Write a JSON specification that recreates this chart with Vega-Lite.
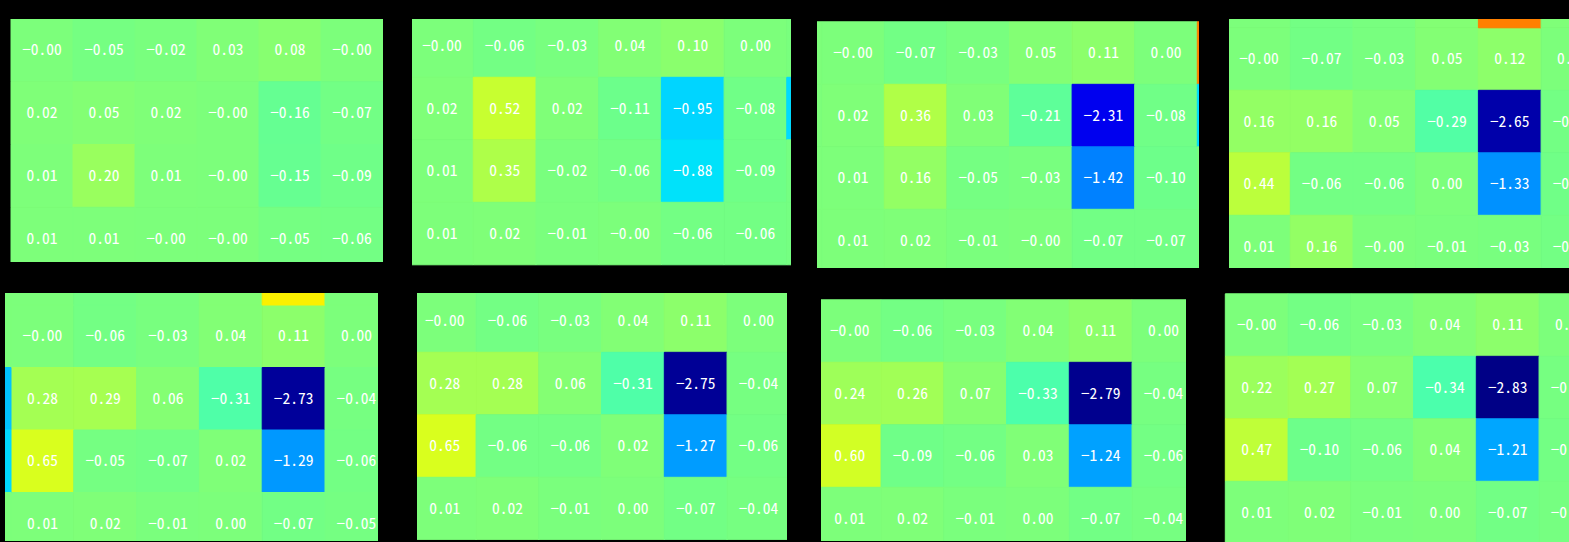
{
"$schema": "https://vega.github.io/schema/vega-lite/v6.json",
"background": "black",
"padding": {"left": 5, "top": 19, "right": 0, "bottom": 0},
"config": {"view": {"stroke": null}, "text": {"color": "white", "font": "Noto Sans Mono CJK SC, Noto Sans CJK SC", "fontSize": 15.5, "fontWeight": 300}, "rect": {"strokeWidth": 1}},
"datasets": {"cells": [
{"p":1,"r":1,"c":1,"v":0,"t":"−0.00"},{"p":1,"r":1,"c":2,"v":-0.05,"t":"−0.05"},{"p":1,"r":1,"c":3,"v":-0.02,"t":"−0.02"},{"p":1,"r":1,"c":4,"v":0.03,"t":"0.03"},{"p":1,"r":1,"c":5,"v":0.08,"t":"0.08"},{"p":1,"r":1,"c":6,"v":0,"t":"−0.00"},
{"p":1,"r":2,"c":1,"v":0.02,"t":"0.02"},{"p":1,"r":2,"c":2,"v":0.05,"t":"0.05"},{"p":1,"r":2,"c":3,"v":0.02,"t":"0.02"},{"p":1,"r":2,"c":4,"v":0,"t":"−0.00"},{"p":1,"r":2,"c":5,"v":-0.16,"t":"−0.16"},{"p":1,"r":2,"c":6,"v":-0.07,"t":"−0.07"},
{"p":1,"r":3,"c":1,"v":0.01,"t":"0.01"},{"p":1,"r":3,"c":2,"v":0.20,"t":"0.20"},{"p":1,"r":3,"c":3,"v":0.01,"t":"0.01"},{"p":1,"r":3,"c":4,"v":0,"t":"−0.00"},{"p":1,"r":3,"c":5,"v":-0.15,"t":"−0.15"},{"p":1,"r":3,"c":6,"v":-0.09,"t":"−0.09"},
{"p":1,"r":4,"c":1,"v":0.01,"t":"0.01"},{"p":1,"r":4,"c":2,"v":0.01,"t":"0.01"},{"p":1,"r":4,"c":3,"v":0,"t":"−0.00"},{"p":1,"r":4,"c":4,"v":0,"t":"−0.00"},{"p":1,"r":4,"c":5,"v":-0.05,"t":"−0.05"},{"p":1,"r":4,"c":6,"v":-0.06,"t":"−0.06"},

{"p":2,"r":1,"c":1,"v":0,"t":"−0.00"},{"p":2,"r":1,"c":2,"v":-0.06,"t":"−0.06"},{"p":2,"r":1,"c":3,"v":-0.03,"t":"−0.03"},{"p":2,"r":1,"c":4,"v":0.04,"t":"0.04"},{"p":2,"r":1,"c":5,"v":0.10,"t":"0.10"},{"p":2,"r":1,"c":6,"v":0,"t":"0.00"},
{"p":2,"r":2,"c":1,"v":0.02,"t":"0.02"},{"p":2,"r":2,"c":2,"v":0.52,"t":"0.52"},{"p":2,"r":2,"c":3,"v":0.02,"t":"0.02"},{"p":2,"r":2,"c":4,"v":-0.11,"t":"−0.11"},{"p":2,"r":2,"c":5,"v":-0.95,"t":"−0.95"},{"p":2,"r":2,"c":6,"v":-0.08,"t":"−0.08"},
{"p":2,"r":3,"c":1,"v":0.01,"t":"0.01"},{"p":2,"r":3,"c":2,"v":0.35,"t":"0.35"},{"p":2,"r":3,"c":3,"v":-0.02,"t":"−0.02"},{"p":2,"r":3,"c":4,"v":-0.06,"t":"−0.06"},{"p":2,"r":3,"c":5,"v":-0.88,"t":"−0.88"},{"p":2,"r":3,"c":6,"v":-0.09,"t":"−0.09"},
{"p":2,"r":4,"c":1,"v":0.01,"t":"0.01"},{"p":2,"r":4,"c":2,"v":0.02,"t":"0.02"},{"p":2,"r":4,"c":3,"v":-0.01,"t":"−0.01"},{"p":2,"r":4,"c":4,"v":0,"t":"−0.00"},{"p":2,"r":4,"c":5,"v":-0.06,"t":"−0.06"},{"p":2,"r":4,"c":6,"v":-0.06,"t":"−0.06"},
{"p":2,"r":1,"c":7,"v":-0.02,"t":""},{"p":2,"r":2,"c":7,"v":-0.92,"t":""},{"p":2,"r":3,"c":7,"v":-0.05,"t":""},{"p":2,"r":4,"c":7,"v":-0.05,"t":""},

{"p":3,"r":1,"c":1,"v":0,"t":"−0.00"},{"p":3,"r":1,"c":2,"v":-0.07,"t":"−0.07"},{"p":3,"r":1,"c":3,"v":-0.03,"t":"−0.03"},{"p":3,"r":1,"c":4,"v":0.05,"t":"0.05"},{"p":3,"r":1,"c":5,"v":0.11,"t":"0.11"},{"p":3,"r":1,"c":6,"v":0,"t":"0.00"},
{"p":3,"r":2,"c":1,"v":0.02,"t":"0.02"},{"p":3,"r":2,"c":2,"v":0.36,"t":"0.36"},{"p":3,"r":2,"c":3,"v":0.03,"t":"0.03"},{"p":3,"r":2,"c":4,"v":-0.21,"t":"−0.21"},{"p":3,"r":2,"c":5,"v":-2.31,"t":"−2.31"},{"p":3,"r":2,"c":6,"v":-0.08,"t":"−0.08"},
{"p":3,"r":3,"c":1,"v":0.01,"t":"0.01"},{"p":3,"r":3,"c":2,"v":0.16,"t":"0.16"},{"p":3,"r":3,"c":3,"v":-0.05,"t":"−0.05"},{"p":3,"r":3,"c":4,"v":-0.03,"t":"−0.03"},{"p":3,"r":3,"c":5,"v":-1.42,"t":"−1.42"},{"p":3,"r":3,"c":6,"v":-0.10,"t":"−0.10"},
{"p":3,"r":4,"c":1,"v":0.01,"t":"0.01"},{"p":3,"r":4,"c":2,"v":0.02,"t":"0.02"},{"p":3,"r":4,"c":3,"v":-0.01,"t":"−0.01"},{"p":3,"r":4,"c":4,"v":0,"t":"−0.00"},{"p":3,"r":4,"c":5,"v":-0.07,"t":"−0.07"},{"p":3,"r":4,"c":6,"v":-0.07,"t":"−0.07"},
{"p":3,"r":1,"c":7,"v":1.57,"t":""},{"p":3,"r":2,"c":7,"v":-0.92,"t":""},{"p":3,"r":3,"c":7,"v":-0.04,"t":""},{"p":3,"r":4,"c":7,"v":-0.04,"t":""},
{"p":3,"r":1,"c":0,"v":0.01,"t":""},{"p":3,"r":2,"c":0,"v":0.01,"t":""},{"p":3,"r":3,"c":0,"v":0.01,"t":""},{"p":3,"r":4,"c":0,"v":0.01,"t":""},

{"p":4,"r":1,"c":1,"v":0,"t":"−0.00"},{"p":4,"r":1,"c":2,"v":-0.07,"t":"−0.07"},{"p":4,"r":1,"c":3,"v":-0.03,"t":"−0.03"},{"p":4,"r":1,"c":4,"v":0.05,"t":"0.05"},{"p":4,"r":1,"c":5,"v":0.12,"t":"0.12"},{"p":4,"r":1,"c":6,"v":0,"t":"0.00"},
{"p":4,"r":2,"c":1,"v":0.16,"t":"0.16"},{"p":4,"r":2,"c":2,"v":0.16,"t":"0.16"},{"p":4,"r":2,"c":3,"v":0.05,"t":"0.05"},{"p":4,"r":2,"c":4,"v":-0.29,"t":"−0.29"},{"p":4,"r":2,"c":5,"v":-2.65,"t":"−2.65"},{"p":4,"r":2,"c":6,"v":-0.06,"t":"−0.06"},
{"p":4,"r":3,"c":1,"v":0.44,"t":"0.44"},{"p":4,"r":3,"c":2,"v":-0.06,"t":"−0.06"},{"p":4,"r":3,"c":3,"v":-0.06,"t":"−0.06"},{"p":4,"r":3,"c":4,"v":0,"t":"0.00"},{"p":4,"r":3,"c":5,"v":-1.33,"t":"−1.33"},{"p":4,"r":3,"c":6,"v":-0.08,"t":"−0.08"},
{"p":4,"r":4,"c":1,"v":0.01,"t":"0.01"},{"p":4,"r":4,"c":2,"v":0.16,"t":"0.16"},{"p":4,"r":4,"c":3,"v":0,"t":"−0.00"},{"p":4,"r":4,"c":4,"v":-0.01,"t":"−0.01"},{"p":4,"r":4,"c":5,"v":-0.03,"t":"−0.03"},{"p":4,"r":4,"c":6,"v":-0.06,"t":"−0.06"},
{"p":4,"r":0,"c":1,"v":0,"t":""},{"p":4,"r":0,"c":2,"v":-0.06,"t":""},{"p":4,"r":0,"c":3,"v":-0.03,"t":""},{"p":4,"r":0,"c":4,"v":0.05,"t":""},{"p":4,"r":0,"c":5,"v":1.57,"t":""},{"p":4,"r":0,"c":6,"v":0.02,"t":""},

{"p":5,"r":1,"c":1,"v":0,"t":"−0.00"},{"p":5,"r":1,"c":2,"v":-0.06,"t":"−0.06"},{"p":5,"r":1,"c":3,"v":-0.03,"t":"−0.03"},{"p":5,"r":1,"c":4,"v":0.04,"t":"0.04"},{"p":5,"r":1,"c":5,"v":0.11,"t":"0.11"},{"p":5,"r":1,"c":6,"v":0,"t":"0.00"},
{"p":5,"r":2,"c":1,"v":0.28,"t":"0.28"},{"p":5,"r":2,"c":2,"v":0.29,"t":"0.29"},{"p":5,"r":2,"c":3,"v":0.06,"t":"0.06"},{"p":5,"r":2,"c":4,"v":-0.31,"t":"−0.31"},{"p":5,"r":2,"c":5,"v":-2.73,"t":"−2.73"},{"p":5,"r":2,"c":6,"v":-0.04,"t":"−0.04"},
{"p":5,"r":3,"c":1,"v":0.65,"t":"0.65"},{"p":5,"r":3,"c":2,"v":-0.05,"t":"−0.05"},{"p":5,"r":3,"c":3,"v":-0.07,"t":"−0.07"},{"p":5,"r":3,"c":4,"v":0.02,"t":"0.02"},{"p":5,"r":3,"c":5,"v":-1.29,"t":"−1.29"},{"p":5,"r":3,"c":6,"v":-0.06,"t":"−0.06"},
{"p":5,"r":4,"c":1,"v":0.01,"t":"0.01"},{"p":5,"r":4,"c":2,"v":0.02,"t":"0.02"},{"p":5,"r":4,"c":3,"v":-0.01,"t":"−0.01"},{"p":5,"r":4,"c":4,"v":0,"t":"0.00"},{"p":5,"r":4,"c":5,"v":-0.07,"t":"−0.07"},{"p":5,"r":4,"c":6,"v":-0.05,"t":"−0.05"},
{"p":5,"r":0,"c":0,"v":0,"t":""},{"p":5,"r":0,"c":1,"v":0,"t":""},{"p":5,"r":0,"c":2,"v":-0.06,"t":""},{"p":5,"r":0,"c":3,"v":-0.03,"t":""},{"p":5,"r":0,"c":4,"v":0.04,"t":""},{"p":5,"r":0,"c":5,"v":0.89,"t":""},{"p":5,"r":0,"c":6,"v":0,"t":""},
{"p":5,"r":1,"c":0,"v":0,"t":""},{"p":5,"r":2,"c":0,"v":-1.05,"t":""},{"p":5,"r":3,"c":0,"v":-0.92,"t":""},{"p":5,"r":4,"c":0,"v":0.01,"t":""},

{"p":6,"r":1,"c":1,"v":0,"t":"−0.00"},{"p":6,"r":1,"c":2,"v":-0.06,"t":"−0.06"},{"p":6,"r":1,"c":3,"v":-0.03,"t":"−0.03"},{"p":6,"r":1,"c":4,"v":0.04,"t":"0.04"},{"p":6,"r":1,"c":5,"v":0.11,"t":"0.11"},{"p":6,"r":1,"c":6,"v":0,"t":"0.00"},
{"p":6,"r":2,"c":1,"v":0.28,"t":"0.28"},{"p":6,"r":2,"c":2,"v":0.28,"t":"0.28"},{"p":6,"r":2,"c":3,"v":0.06,"t":"0.06"},{"p":6,"r":2,"c":4,"v":-0.31,"t":"−0.31"},{"p":6,"r":2,"c":5,"v":-2.75,"t":"−2.75"},{"p":6,"r":2,"c":6,"v":-0.04,"t":"−0.04"},
{"p":6,"r":3,"c":1,"v":0.65,"t":"0.65"},{"p":6,"r":3,"c":2,"v":-0.06,"t":"−0.06"},{"p":6,"r":3,"c":3,"v":-0.06,"t":"−0.06"},{"p":6,"r":3,"c":4,"v":0.02,"t":"0.02"},{"p":6,"r":3,"c":5,"v":-1.27,"t":"−1.27"},{"p":6,"r":3,"c":6,"v":-0.06,"t":"−0.06"},
{"p":6,"r":4,"c":1,"v":0.01,"t":"0.01"},{"p":6,"r":4,"c":2,"v":0.02,"t":"0.02"},{"p":6,"r":4,"c":3,"v":-0.01,"t":"−0.01"},{"p":6,"r":4,"c":4,"v":0,"t":"0.00"},{"p":6,"r":4,"c":5,"v":-0.07,"t":"−0.07"},{"p":6,"r":4,"c":6,"v":-0.04,"t":"−0.04"},

{"p":7,"r":1,"c":1,"v":0,"t":"−0.00"},{"p":7,"r":1,"c":2,"v":-0.06,"t":"−0.06"},{"p":7,"r":1,"c":3,"v":-0.03,"t":"−0.03"},{"p":7,"r":1,"c":4,"v":0.04,"t":"0.04"},{"p":7,"r":1,"c":5,"v":0.11,"t":"0.11"},{"p":7,"r":1,"c":6,"v":0,"t":"0.00"},
{"p":7,"r":2,"c":1,"v":0.24,"t":"0.24"},{"p":7,"r":2,"c":2,"v":0.26,"t":"0.26"},{"p":7,"r":2,"c":3,"v":0.07,"t":"0.07"},{"p":7,"r":2,"c":4,"v":-0.33,"t":"−0.33"},{"p":7,"r":2,"c":5,"v":-2.79,"t":"−2.79"},{"p":7,"r":2,"c":6,"v":-0.04,"t":"−0.04"},
{"p":7,"r":3,"c":1,"v":0.60,"t":"0.60"},{"p":7,"r":3,"c":2,"v":-0.09,"t":"−0.09"},{"p":7,"r":3,"c":3,"v":-0.06,"t":"−0.06"},{"p":7,"r":3,"c":4,"v":0.03,"t":"0.03"},{"p":7,"r":3,"c":5,"v":-1.24,"t":"−1.24"},{"p":7,"r":3,"c":6,"v":-0.06,"t":"−0.06"},
{"p":7,"r":4,"c":1,"v":0.01,"t":"0.01"},{"p":7,"r":4,"c":2,"v":0.02,"t":"0.02"},{"p":7,"r":4,"c":3,"v":-0.01,"t":"−0.01"},{"p":7,"r":4,"c":4,"v":0,"t":"0.00"},{"p":7,"r":4,"c":5,"v":-0.07,"t":"−0.07"},{"p":7,"r":4,"c":6,"v":-0.04,"t":"−0.04"},

{"p":8,"r":1,"c":1,"v":0,"t":"−0.00"},{"p":8,"r":1,"c":2,"v":-0.06,"t":"−0.06"},{"p":8,"r":1,"c":3,"v":-0.03,"t":"−0.03"},{"p":8,"r":1,"c":4,"v":0.04,"t":"0.04"},{"p":8,"r":1,"c":5,"v":0.11,"t":"0.11"},{"p":8,"r":1,"c":6,"v":0,"t":"0.00"},
{"p":8,"r":2,"c":1,"v":0.22,"t":"0.22"},{"p":8,"r":2,"c":2,"v":0.27,"t":"0.27"},{"p":8,"r":2,"c":3,"v":0.07,"t":"0.07"},{"p":8,"r":2,"c":4,"v":-0.34,"t":"−0.34"},{"p":8,"r":2,"c":5,"v":-2.83,"t":"−2.83"},{"p":8,"r":2,"c":6,"v":-0.04,"t":"−0.04"},
{"p":8,"r":3,"c":1,"v":0.47,"t":"0.47"},{"p":8,"r":3,"c":2,"v":-0.10,"t":"−0.10"},{"p":8,"r":3,"c":3,"v":-0.06,"t":"−0.06"},{"p":8,"r":3,"c":4,"v":0.04,"t":"0.04"},{"p":8,"r":3,"c":5,"v":-1.21,"t":"−1.21"},{"p":8,"r":3,"c":6,"v":-0.06,"t":"−0.06"},
{"p":8,"r":4,"c":1,"v":0.01,"t":"0.01"},{"p":8,"r":4,"c":2,"v":0.02,"t":"0.02"},{"p":8,"r":4,"c":3,"v":-0.01,"t":"−0.01"},{"p":8,"r":4,"c":4,"v":0,"t":"0.00"},{"p":8,"r":4,"c":5,"v":-0.07,"t":"−0.07"},{"p":8,"r":4,"c":6,"v":-0.04,"t":"−0.04"}
]},
"data": {"name": "cells"},
"vconcat": [
 {"spacing": 30, "hconcat": [
  {"spacing": 26, "hconcat": [
   {"spacing": 29, "hconcat": [
    {"width": 378, "height": 243, "transform": [{"filter": "datum.p == 1"}],
     "encoding": {"x": {"field": "c", "type": "ordinal", "axis": null, "scale": {"range": [6, 378], "paddingInner": 0, "paddingOuter": 0}},
                  "y": {"field": "r", "type": "ordinal", "axis": null, "scale": {"range": [0, 251], "paddingInner": 0, "paddingOuter": 0}}},
     "layer": [
      {"mark": {"type": "rect", "clip": true}, "encoding": {"color": {"field": "v", "type": "quantitative", "legend": null, "scale": {"domain": [-2.86, -2.231, -2.145, -0.915, -0.858, -0.715, 0.801, 0.858, 0.915, 2.231, 2.345, 2.86], "range": ["#000080", "#0000ff", "#0000ff", "#00dbff", "#00e6f7", "#15ffe2", "#efff08", "#f7f500", "#ffec00", "#ff1300", "#e80000", "#800000"], "interpolate": "rgb"}}, "stroke": {"field": "v", "type": "quantitative", "legend": null, "scale": {"domain": [-2.86, -2.231, -2.145, -0.915, -0.858, -0.715, 0.801, 0.858, 0.915, 2.231, 2.345, 2.86], "range": ["#000080", "#0000ff", "#0000ff", "#00dbff", "#00e6f7", "#15ffe2", "#efff08", "#f7f500", "#ffec00", "#ff1300", "#e80000", "#800000"], "interpolate": "rgb"}}}},
      {"mark": {"type": "text", "clip": true}, "encoding": {"text": {"field": "t"}}}
     ]},
    {"width": 379, "height": 248, "transform": [{"filter": "datum.p == 2"}],
     "encoding": {"x": {"field": "c", "type": "ordinal", "axis": null, "scale": {"range": [-1.4, 437.5], "paddingInner": 0, "paddingOuter": 0}},
                  "y": {"field": "r", "type": "ordinal", "axis": null, "scale": {"range": [-4.2, 245.8], "paddingInner": 0, "paddingOuter": 0}}},
     "layer": [
      {"mark": {"type": "rect", "clip": true}, "encoding": {"color": {"field": "v", "type": "quantitative", "legend": null, "scale": {"domain": [-2.86, -2.231, -2.145, -0.915, -0.858, -0.715, 0.801, 0.858, 0.915, 2.231, 2.345, 2.86], "range": ["#000080", "#0000ff", "#0000ff", "#00dbff", "#00e6f7", "#15ffe2", "#efff08", "#f7f500", "#ffec00", "#ff1300", "#e80000", "#800000"], "interpolate": "rgb"}}, "stroke": {"field": "v", "type": "quantitative", "legend": null, "scale": {"domain": [-2.86, -2.231, -2.145, -0.915, -0.858, -0.715, 0.801, 0.858, 0.915, 2.231, 2.345, 2.86], "range": ["#000080", "#0000ff", "#0000ff", "#00dbff", "#00e6f7", "#15ffe2", "#efff08", "#f7f500", "#ffec00", "#ff1300", "#e80000", "#800000"], "interpolate": "rgb"}}}},
      {"mark": {"type": "text", "clip": true}, "encoding": {"text": {"field": "t"}}}
     ]}
   ]},
   {"width": 382, "height": 249, "transform": [{"filter": "datum.p == 3"}],
    "encoding": {"x": {"field": "c", "type": "ordinal", "axis": null, "scale": {"range": [-57.9, 442.9], "paddingInner": 0, "paddingOuter": 0}},
                 "y": {"field": "r", "type": "ordinal", "axis": null, "scale": {"range": [2.8, 252.8], "paddingInner": 0, "paddingOuter": 0}}},
    "layer": [
     {"mark": {"type": "rect", "clip": true}, "encoding": {"color": {"field": "v", "type": "quantitative", "legend": null, "scale": {"domain": [-2.86, -2.231, -2.145, -0.915, -0.858, -0.715, 0.801, 0.858, 0.915, 2.231, 2.345, 2.86], "range": ["#000080", "#0000ff", "#0000ff", "#00dbff", "#00e6f7", "#15ffe2", "#efff08", "#f7f500", "#ffec00", "#ff1300", "#e80000", "#800000"], "interpolate": "rgb"}}, "stroke": {"field": "v", "type": "quantitative", "legend": null, "scale": {"domain": [-2.86, -2.231, -2.145, -0.915, -0.858, -0.715, 0.801, 0.858, 0.915, 2.231, 2.345, 2.86], "range": ["#000080", "#0000ff", "#0000ff", "#00dbff", "#00e6f7", "#15ffe2", "#efff08", "#f7f500", "#ffec00", "#ff1300", "#e80000", "#800000"], "interpolate": "rgb"}}}},
     {"mark": {"type": "text", "clip": true}, "encoding": {"text": {"field": "t"}}}
    ]}
  ]},
  {"width": 380, "height": 249, "transform": [{"filter": "datum.p == 4"}],
   "encoding": {"x": {"field": "c", "type": "ordinal", "axis": null, "scale": {"range": [-1.4, 374.8], "paddingInner": 0, "paddingOuter": 0}},
                "y": {"field": "r", "type": "ordinal", "axis": null, "scale": {"range": [-53.7, 258.8], "paddingInner": 0, "paddingOuter": 0}}},
   "layer": [
    {"mark": {"type": "rect", "clip": true}, "encoding": {"color": {"field": "v", "type": "quantitative", "legend": null, "scale": {"domain": [-2.86, -2.231, -2.145, -0.915, -0.858, -0.715, 0.801, 0.858, 0.915, 2.231, 2.345, 2.86], "range": ["#000080", "#0000ff", "#0000ff", "#00dbff", "#00e6f7", "#15ffe2", "#efff08", "#f7f500", "#ffec00", "#ff1300", "#e80000", "#800000"], "interpolate": "rgb"}}, "stroke": {"field": "v", "type": "quantitative", "legend": null, "scale": {"domain": [-2.86, -2.231, -2.145, -0.915, -0.858, -0.715, 0.801, 0.858, 0.915, 2.231, 2.345, 2.86], "range": ["#000080", "#0000ff", "#0000ff", "#00dbff", "#00e6f7", "#15ffe2", "#efff08", "#f7f500", "#ffec00", "#ff1300", "#e80000", "#800000"], "interpolate": "rgb"}}}},
    {"mark": {"type": "text", "clip": true}, "encoding": {"text": {"field": "t"}}}
   ]}
 ]},
 {"spacing": 37, "hconcat": [
  {"spacing": 34, "hconcat": [
   {"spacing": 39, "hconcat": [
    {"width": 373, "height": 248, "transform": [{"filter": "datum.p == 5"}],
     "encoding": {"x": {"field": "c", "type": "ordinal", "axis": null, "scale": {"range": [-56.8, 382.8], "paddingInner": 0, "paddingOuter": 0}},
                  "y": {"field": "r", "type": "ordinal", "axis": null, "scale": {"range": [-50.5, 262], "paddingInner": 0, "paddingOuter": 0}}},
     "layer": [
      {"mark": {"type": "rect", "clip": true}, "encoding": {"color": {"field": "v", "type": "quantitative", "legend": null, "scale": {"domain": [-2.86, -2.231, -2.145, -0.915, -0.858, -0.715, 0.801, 0.858, 0.915, 2.231, 2.345, 2.86], "range": ["#000080", "#0000ff", "#0000ff", "#00dbff", "#00e6f7", "#15ffe2", "#efff08", "#f7f500", "#ffec00", "#ff1300", "#e80000", "#800000"], "interpolate": "rgb"}}, "stroke": {"field": "v", "type": "quantitative", "legend": null, "scale": {"domain": [-2.86, -2.231, -2.145, -0.915, -0.858, -0.715, 0.801, 0.858, 0.915, 2.231, 2.345, 2.86], "range": ["#000080", "#0000ff", "#0000ff", "#00dbff", "#00e6f7", "#15ffe2", "#efff08", "#f7f500", "#ffec00", "#ff1300", "#e80000", "#800000"], "interpolate": "rgb"}}}},
      {"mark": {"type": "text", "clip": true}, "encoding": {"text": {"field": "t"}}}
     ]},
    {"width": 370, "height": 247, "transform": [{"filter": "datum.p == 6"}],
     "encoding": {"x": {"field": "c", "type": "ordinal", "axis": null, "scale": {"range": [-3.7, 372.8], "paddingInner": 0, "paddingOuter": 0}},
                  "y": {"field": "r", "type": "ordinal", "axis": null, "scale": {"range": [-3.2, 246.8], "paddingInner": 0, "paddingOuter": 0}}},
     "layer": [
      {"mark": {"type": "rect", "clip": true}, "encoding": {"color": {"field": "v", "type": "quantitative", "legend": null, "scale": {"domain": [-2.86, -2.231, -2.145, -0.915, -0.858, -0.715, 0.801, 0.858, 0.915, 2.231, 2.345, 2.86], "range": ["#000080", "#0000ff", "#0000ff", "#00dbff", "#00e6f7", "#15ffe2", "#efff08", "#f7f500", "#ffec00", "#ff1300", "#e80000", "#800000"], "interpolate": "rgb"}}, "stroke": {"field": "v", "type": "quantitative", "legend": null, "scale": {"domain": [-2.86, -2.231, -2.145, -0.915, -0.858, -0.715, 0.801, 0.858, 0.915, 2.231, 2.345, 2.86], "range": ["#000080", "#0000ff", "#0000ff", "#00dbff", "#00e6f7", "#15ffe2", "#efff08", "#f7f500", "#ffec00", "#ff1300", "#e80000", "#800000"], "interpolate": "rgb"}}}},
      {"mark": {"type": "text", "clip": true}, "encoding": {"text": {"field": "t"}}}
     ]}
   ]},
   {"width": 365, "height": 248, "transform": [{"filter": "datum.p == 7"}],
    "encoding": {"x": {"field": "c", "type": "ordinal", "axis": null, "scale": {"range": [-2.7, 373.8], "paddingInner": 0, "paddingOuter": 0}},
                 "y": {"field": "r", "type": "ordinal", "axis": null, "scale": {"range": [6.8, 256.8], "paddingInner": 0, "paddingOuter": 0}}},
    "layer": [
     {"mark": {"type": "rect", "clip": true}, "encoding": {"color": {"field": "v", "type": "quantitative", "legend": null, "scale": {"domain": [-2.86, -2.231, -2.145, -0.915, -0.858, -0.715, 0.801, 0.858, 0.915, 2.231, 2.345, 2.86], "range": ["#000080", "#0000ff", "#0000ff", "#00dbff", "#00e6f7", "#15ffe2", "#efff08", "#f7f500", "#ffec00", "#ff1300", "#e80000", "#800000"], "interpolate": "rgb"}}, "stroke": {"field": "v", "type": "quantitative", "legend": null, "scale": {"domain": [-2.86, -2.231, -2.145, -0.915, -0.858, -0.715, 0.801, 0.858, 0.915, 2.231, 2.345, 2.86], "range": ["#000080", "#0000ff", "#0000ff", "#00dbff", "#00e6f7", "#15ffe2", "#efff08", "#f7f500", "#ffec00", "#ff1300", "#e80000", "#800000"], "interpolate": "rgb"}}}},
     {"mark": {"type": "text", "clip": true}, "encoding": {"text": {"field": "t"}}}
    ]}
  ]},
  {"width": 380, "height": 249, "transform": [{"filter": "datum.p == 8"}],
   "encoding": {"x": {"field": "c", "type": "ordinal", "axis": null, "scale": {"range": [2.3, 378.8], "paddingInner": 0, "paddingOuter": 0}},
                "y": {"field": "r", "type": "ordinal", "axis": null, "scale": {"range": [0.8, 250.8], "paddingInner": 0, "paddingOuter": 0}}},
   "layer": [
    {"mark": {"type": "rect", "clip": true}, "encoding": {"color": {"field": "v", "type": "quantitative", "legend": null, "scale": {"domain": [-2.86, -2.231, -2.145, -0.915, -0.858, -0.715, 0.801, 0.858, 0.915, 2.231, 2.345, 2.86], "range": ["#000080", "#0000ff", "#0000ff", "#00dbff", "#00e6f7", "#15ffe2", "#efff08", "#f7f500", "#ffec00", "#ff1300", "#e80000", "#800000"], "interpolate": "rgb"}}, "stroke": {"field": "v", "type": "quantitative", "legend": null, "scale": {"domain": [-2.86, -2.231, -2.145, -0.915, -0.858, -0.715, 0.801, 0.858, 0.915, 2.231, 2.345, 2.86], "range": ["#000080", "#0000ff", "#0000ff", "#00dbff", "#00e6f7", "#15ffe2", "#efff08", "#f7f500", "#ffec00", "#ff1300", "#e80000", "#800000"], "interpolate": "rgb"}}}},
    {"mark": {"type": "text", "clip": true}, "encoding": {"text": {"field": "t"}}}
   ]}
 ]}
],
"spacing": 25
}
